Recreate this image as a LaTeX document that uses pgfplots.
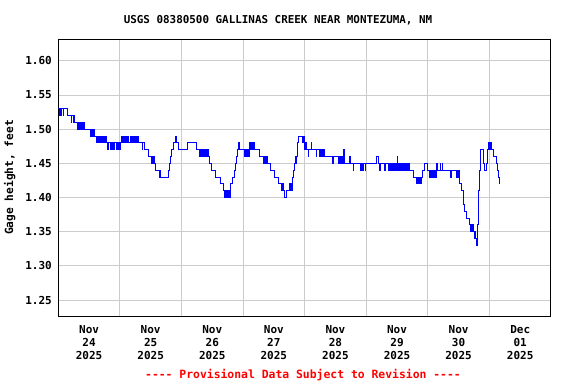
\documentclass[border=0pt]{standalone}
\usepackage{fontspec}
\setmainfont{DejaVu Sans Mono}
\usepackage{pgfplots}
\pgfplotsset{compat=1.18}
\begin{document}
\begin{tikzpicture}[font=\bfseries\fontsize{11}{13}\selectfont]
\useasboundingbox (-58.3pt,-68pt) rectangle (517.7pt,316pt);
\fill[white] (-58.3pt,-68pt) rectangle (517.7pt,316pt);
\begin{axis}[at={(0,0)}, anchor=south west, scale only axis,
  width=492.7pt, height=277pt,
  xmin=0, xmax=8, ymin=1.2266, ymax=1.632,
  xtick={0.5,1.5,2.5,3.5,4.5,5.5,6.5,7.5},
  xticklabels={{Nov\\24\\2025},{Nov\\25\\2025},{Nov\\26\\2025},{Nov\\27\\2025},{Nov\\28\\2025},{Nov\\29\\2025},{Nov\\30\\2025},{Dec\\01\\2025}},
  x tick label style={align=center, font=\bfseries\fontsize{11}{13}\selectfont, yshift=-6pt},
  minor xtick={1,2,3,4,5,6,7},
  xminorgrids=true, xmajorgrids=false,
  ytick={1.25,1.30,1.35,1.40,1.45,1.50,1.55,1.60},
  ymajorgrids=true,
  major tick length=0pt, minor tick length=0pt,
  grid style={color=black!20, line width=0.9pt},
  minor grid style={color=black!20, line width=0.9pt},
  yticklabel style={font=\bfseries\fontsize{11}{13}\selectfont, xshift=-3pt},
  yticklabel style={/pgf/number format/.cd, fixed, fixed zerofill, precision=2, assume math mode=true},
  axis line style={black, line width=1pt},
  ylabel={Gage height, feet},
  ylabel style={font=\bfseries\fontsize{11.2}{13}\selectfont, yshift=3pt},
]
\addplot[const plot, blue, line width=1pt] coordinates {
(0.000,1.53)(0.020,1.52)(0.028,1.53)(0.050,1.52)(0.058,1.53)(0.080,1.52)(0.088,1.53)(0.152,1.52)
(0.215,1.51)(0.222,1.52)(0.240,1.51)(0.248,1.52)(0.256,1.51)
(0.314,1.50)(0.326,1.51)(0.338,1.50)(0.350,1.51)(0.362,1.50)(0.374,1.51)(0.386,1.50)(0.398,1.51)(0.410,1.50)(0.422,1.51)
(0.433,1.50)(0.515,1.49)(0.523,1.50)(0.540,1.49)(0.548,1.50)(0.560,1.49)(0.570,1.50)(0.585,1.49)
(0.623,1.48)(0.635,1.49)(0.647,1.48)(0.659,1.49)(0.671,1.48)(0.683,1.49)(0.695,1.48)(0.707,1.49)(0.719,1.48)(0.731,1.49)(0.743,1.48)(0.755,1.49)(0.767,1.48)(0.779,1.49)
(0.785,1.48)(0.800,1.47)(0.810,1.48)(0.840,1.47)(0.850,1.48)(0.870,1.47)(0.880,1.48)(0.900,1.47)(0.915,1.48)(0.940,1.47)(0.948,1.48)(0.965,1.47)(0.975,1.48)(0.995,1.47)(1.010,1.48)
(1.029,1.49)(1.041,1.48)(1.053,1.49)(1.065,1.48)(1.077,1.49)(1.089,1.48)(1.101,1.49)(1.113,1.48)(1.125,1.49)(1.137,1.48)
(1.170,1.49)(1.182,1.48)(1.194,1.49)(1.206,1.48)(1.218,1.49)(1.230,1.48)(1.242,1.49)(1.254,1.48)(1.266,1.49)(1.278,1.48)(1.290,1.49)
(1.299,1.48)(1.360,1.47)(1.368,1.48)(1.400,1.47)(1.465,1.46)
(1.510,1.45)(1.522,1.46)(1.534,1.45)(1.546,1.46)(1.558,1.45)(1.580,1.44)
(1.640,1.43)(1.650,1.44)(1.660,1.43)
(1.790,1.44)(1.805,1.45)(1.820,1.46)(1.835,1.47)(1.870,1.48)(1.895,1.49)(1.925,1.48)(1.955,1.47)
(2.100,1.48)(2.246,1.47)
(2.300,1.46)(2.312,1.47)(2.324,1.46)(2.336,1.47)(2.348,1.46)(2.360,1.47)(2.372,1.46)(2.384,1.47)(2.396,1.46)(2.408,1.47)(2.420,1.46)(2.432,1.47)(2.444,1.46)
(2.463,1.45)(2.490,1.44)(2.545,1.43)(2.636,1.42)(2.680,1.41)
(2.706,1.40)(2.718,1.41)(2.730,1.40)(2.742,1.41)(2.754,1.40)(2.766,1.41)(2.778,1.40)(2.790,1.41)
(2.804,1.42)(2.830,1.43)(2.855,1.44)(2.880,1.45)(2.895,1.46)(2.910,1.47)(2.922,1.48)(2.949,1.47)
(3.031,1.46)(3.043,1.47)(3.055,1.46)(3.067,1.47)(3.079,1.46)(3.091,1.47)(3.103,1.46)
(3.112,1.48)(3.124,1.47)(3.136,1.48)(3.148,1.47)(3.160,1.48)(3.172,1.47)(3.184,1.48)
(3.193,1.47)(3.274,1.46)
(3.328,1.45)(3.340,1.46)(3.352,1.45)(3.364,1.46)(3.376,1.45)(3.388,1.46)(3.400,1.45)
(3.440,1.44)(3.518,1.43)(3.572,1.42)(3.626,1.41)(3.640,1.42)(3.655,1.41)(3.680,1.40)(3.700,1.41)
(3.734,1.41)(3.750,1.42)(3.762,1.41)(3.774,1.42)(3.786,1.41)(3.798,1.42)(3.810,1.43)(3.820,1.44)(3.835,1.45)(3.845,1.46)(3.855,1.45)(3.865,1.46)(3.880,1.48)(3.895,1.49)
(3.967,1.48)(3.985,1.49)(3.992,1.48)(4.005,1.47)(4.015,1.48)(4.025,1.47)(4.055,1.46)(4.070,1.47)(4.105,1.48)(4.118,1.47)(4.194,1.46)(4.200,1.47)
(4.248,1.46)(4.260,1.47)(4.272,1.46)(4.284,1.47)(4.296,1.46)(4.308,1.47)(4.320,1.46)
(4.460,1.45)(4.468,1.46)
(4.546,1.45)(4.558,1.46)(4.570,1.45)(4.582,1.46)(4.594,1.45)(4.606,1.46)(4.618,1.45)(4.630,1.47)(4.640,1.45)
(4.732,1.46)(4.740,1.45)(4.786,1.44)(4.796,1.45)(4.900,1.44)(4.910,1.45)(4.925,1.44)(4.935,1.45)(4.950,1.44)(4.960,1.45)(4.985,1.44)(4.995,1.45)
(5.168,1.46)(5.195,1.45)(5.220,1.44)(5.228,1.45)(5.300,1.44)(5.308,1.45)(5.355,1.44)(5.365,1.45)(5.380,1.44)(5.390,1.45)(5.410,1.44)(5.420,1.45)
(5.440,1.44)(5.452,1.45)(5.464,1.44)(5.476,1.45)(5.488,1.44)(5.500,1.46)(5.508,1.45)(5.520,1.44)(5.532,1.45)(5.544,1.44)(5.556,1.45)(5.568,1.44)(5.580,1.45)(5.592,1.44)(5.604,1.45)(5.616,1.44)(5.628,1.45)(5.640,1.44)(5.652,1.45)(5.664,1.44)(5.676,1.45)(5.688,1.44)(5.700,1.45)
(5.709,1.44)(5.763,1.43)
(5.817,1.42)(5.829,1.43)(5.841,1.42)(5.853,1.43)(5.865,1.42)(5.877,1.43)(5.889,1.42)(5.901,1.43)
(5.915,1.44)(5.953,1.45)(5.990,1.44)
(6.034,1.43)(6.046,1.44)(6.058,1.43)(6.070,1.44)(6.082,1.43)(6.094,1.44)(6.106,1.43)(6.118,1.44)(6.130,1.43)
(6.142,1.45)(6.150,1.44)(6.205,1.45)(6.212,1.44)(6.238,1.45)(6.245,1.44)(6.372,1.43)(6.380,1.44)
(6.467,1.43)(6.479,1.44)(6.491,1.43)(6.503,1.44)
(6.510,1.42)(6.548,1.41)(6.575,1.39)(6.602,1.38)(6.629,1.37)
(6.683,1.36)(6.695,1.35)(6.707,1.36)(6.719,1.35)(6.731,1.36)
(6.740,1.35)(6.752,1.34)(6.764,1.35)(6.776,1.34)(6.790,1.33)(6.800,1.34)(6.810,1.36)(6.820,1.38)(6.830,1.41)(6.842,1.44)(6.850,1.47)
(6.899,1.46)(6.910,1.45)(6.927,1.44)(6.950,1.45)(6.964,1.47)(6.980,1.48)(6.990,1.47)(7.000,1.48)(7.010,1.47)(7.020,1.48)(7.029,1.47)
(7.073,1.46)(7.116,1.45)(7.130,1.44)(7.143,1.43)(7.159,1.42)
};
\end{axis}
\node[font=\bfseries\fontsize{10.9}{13}\selectfont] at (219.7pt,296pt) {USGS 08380500 GALLINAS CREEK NEAR MONTEZUMA, NM};
\node[red, font=\bfseries\fontsize{11.4}{13}\selectfont] at (244.7pt,-59pt) {{-}{-}{-}{-} Provisional Data Subject to Revision {-}{-}{-}{-}};
\end{tikzpicture}
\end{document}
